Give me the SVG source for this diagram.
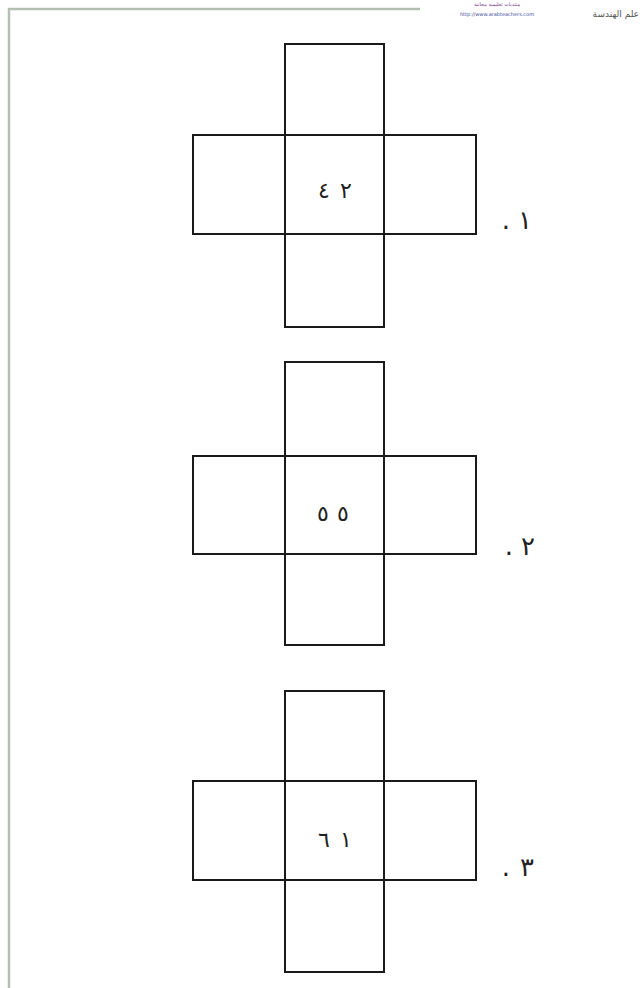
<svg xmlns="http://www.w3.org/2000/svg" width="643" height="988" viewBox="0 0 643 988">
<style>
.sq{fill:none;stroke:#1a1a1a;stroke-width:2}
.num{font-family:"DejaVu Sans",sans-serif;font-size:22px;fill:#222;text-anchor:middle}
.lbl{font-family:"DejaVu Sans",sans-serif;font-size:26px;fill:#222;text-anchor:middle}
.hdr{font-family:"DejaVu Sans",sans-serif;fill:#555}
</style>
<rect width="643" height="988" fill="#ffffff"/>
<g id="border">
<path d="M9 988 V9 H420" fill="none" stroke="#b3bfb3" stroke-width="2.5"/>
</g>
<g id="header">
<text class="hdr" x="639" y="17" font-size="9" text-anchor="end">علم الهندسة</text>
<text x="497" y="6" font-family="DejaVu Sans,sans-serif" font-size="5" fill="#7a3a8a" text-anchor="middle">منتديات تعليمية مجانية</text>
<text x="497" y="16" font-family="DejaVu Sans,sans-serif" font-size="5" fill="#3a4a9a" text-anchor="middle">http://www.arabteachers.com</text>
</g>
<g id="net1">
<rect class="sq" x="285" y="44" width="99" height="91"/>
<rect class="sq" x="193" y="135" width="283" height="99"/>
<line class="sq" x1="285" y1="135" x2="285" y2="234"/>
<line class="sq" x1="384" y1="135" x2="384" y2="234"/>
<rect class="sq" x="285" y="234" width="99" height="93"/>
<text class="num" x="324" y="198">٤</text>
<text class="num" x="346" y="198">٢</text>
<text class="lbl" x="506" y="229">.</text>
<text class="lbl" x="525" y="229">١</text>
</g>
<g id="net2">
<rect class="sq" x="285" y="362" width="99" height="94"/>
<rect class="sq" x="193" y="456" width="283" height="98"/>
<line class="sq" x1="285" y1="456" x2="285" y2="554"/>
<line class="sq" x1="384" y1="456" x2="384" y2="554"/>
<rect class="sq" x="285" y="554" width="99" height="91"/>
<text class="num" x="323" y="521" font-size="18">٥</text>
<text class="num" x="343" y="521" font-size="18">٥</text>
<text class="lbl" x="509" y="555">.</text>
<text class="lbl" x="528" y="555">٢</text>
</g>
<g id="net3">
<rect class="sq" x="285" y="691" width="99" height="90"/>
<rect class="sq" x="193" y="781" width="283" height="99"/>
<line class="sq" x1="285" y1="781" x2="285" y2="880"/>
<line class="sq" x1="384" y1="781" x2="384" y2="880"/>
<rect class="sq" x="285" y="880" width="99" height="92"/>
<text class="num" x="324" y="847">٦</text>
<text class="num" x="346" y="847">١</text>
<text class="lbl" x="506" y="876">.</text>
<text class="lbl" x="527" y="876">٣</text>
</g>
<g id="connectors"></g>
</svg>
